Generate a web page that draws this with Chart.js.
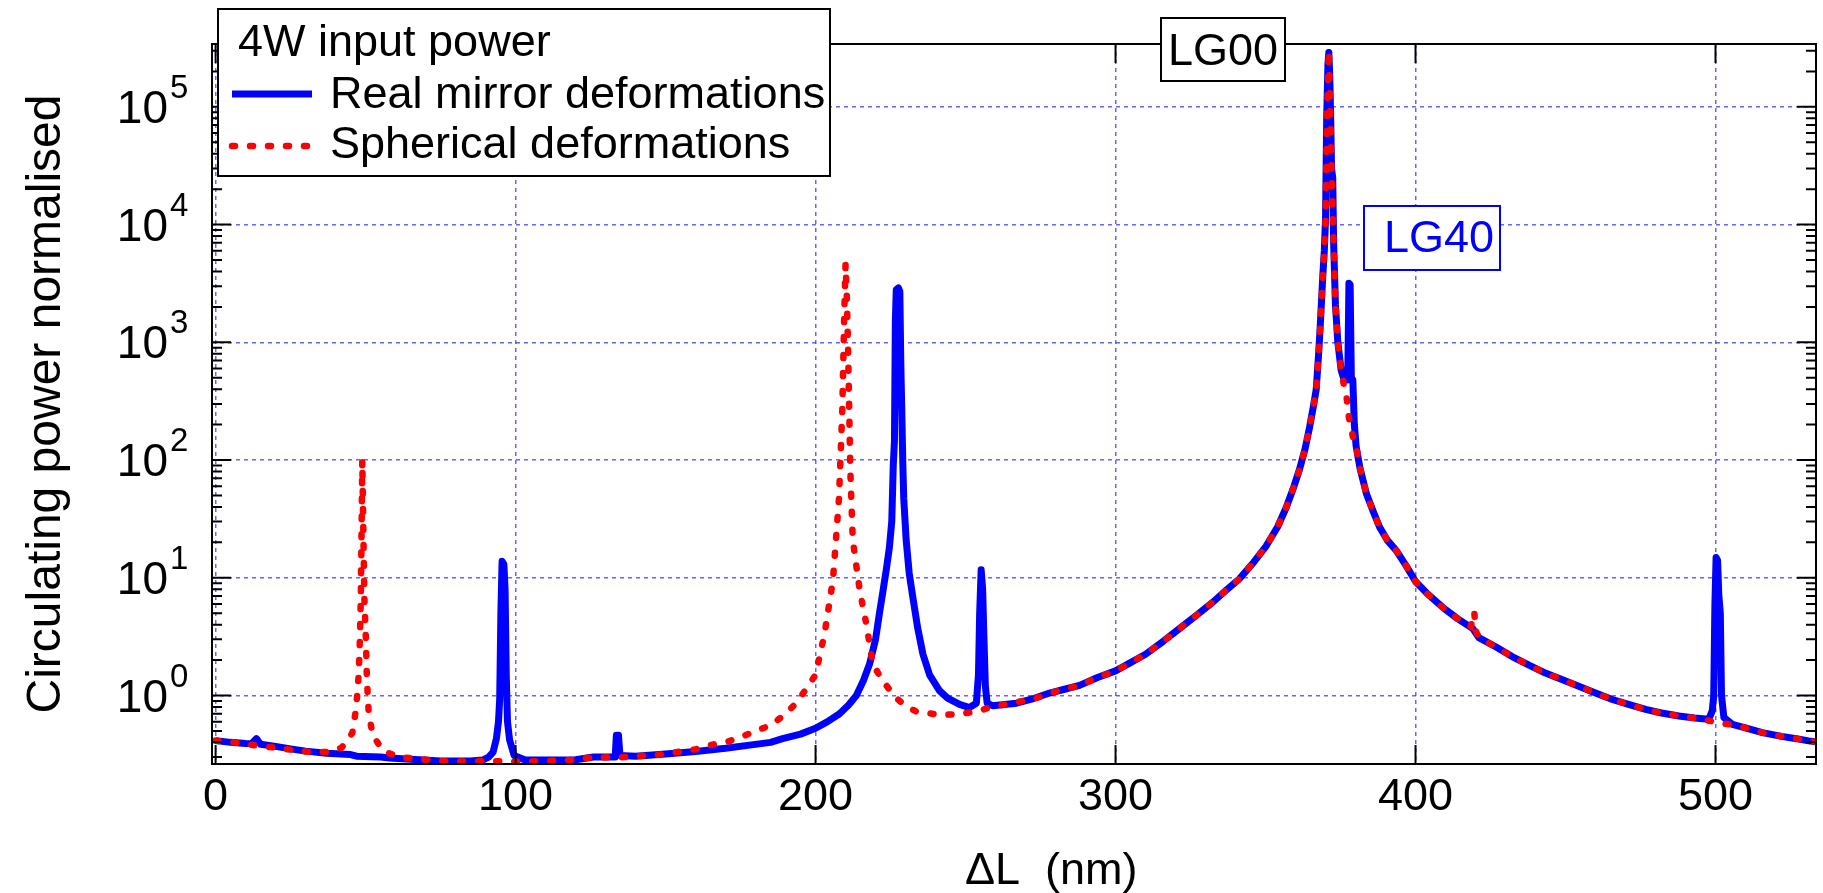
<!DOCTYPE html>
<html>
<head>
<meta charset="utf-8">
<title>Circulating power vs ΔL</title>
<script src="https://cdn.jsdelivr.net/npm/chart.js@4.4.1/dist/chart.umd.min.js"></script>
<style>
  html, body { margin: 0; padding: 0; background: #fff; }
  #wrap { width: 1823px; height: 893px; }
</style>
</head>
<body>
<div id="wrap"><canvas id="chart" width="1823" height="893"></canvas></div>
<script>
const X_TICKS = [0, 100, 200, 300, 400, 500];
const Y_TICKS = [1, 10, 100, 1000, 10000, 100000];
const Y_EXPONENTS = ['0', '1', '2', '3', '4', '5'];

// Real mirror deformations (blue)
const realX = [0, 5, 10, 12, 13.6, 15, 20, 25, 30, 37, 45, 47, 55, 58, 65, 75, 85, 89, 91, 92.5,
  93.6, 94.3, 94.7, 95.1, 95.5, 96.1, 96.5, 96.9, 97.3, 98, 99.5, 103, 110, 120, 126, 133.2, 133.6, 134.3, 134.8, 140,
  150, 160, 170, 178, 185, 189, 195, 200, 204, 208, 211, 213.6, 216, 218, 220, 221.3, 222.5, 223.6, 224.6, 225.4,
  225.9, 226.3, 226.6, 226.9, 227.6, 228.1, 228.4, 228.7, 229.1, 229.4, 230.2, 231.2, 232.4, 234, 235.8, 238, 241.3, 244, 248, 251.3,
  253.6, 254.3, 254.7, 255.2, 255.7, 256.1, 256.6, 257.2, 259, 263, 267, 272, 278, 283, 288, 294, 300, 305, 310, 316,
  321.3, 327, 332.4, 337, 341.3, 346, 350.2, 354, 356.9, 359.5, 361.3, 363.2, 364.7, 366, 366.9, 367.7, 368.2, 369.1, 369.6, 370,
  370.4, 370.8, 371.1, 371.4, 371.7, 372, 372.4, 372.7, 373.3, 374.1, 375.2, 376.2, 376.9, 377.4, 377.8, 378.2, 378.6, 379.1, 379.6, 380.2,
  381.5, 383.6, 386, 388, 390.5, 393.6, 397, 400, 404, 409.1, 414, 419.1, 421.1, 427, 432.2, 438, 443.3, 449, 454.4, 460,
  465.6, 471, 476.7, 482, 487.8, 493, 497.8, 498.9, 499.4, 499.8, 500.2, 500.7, 501.1, 501.6, 502, 502.8, 505.6, 510, 515.6, 522,
  527, 531, 533.5];
const realY = [0.414, 0.40, 0.392, 0.39, 0.43, 0.385, 0.37, 0.352, 0.337, 0.323, 0.315, 0.305, 0.30, 0.295, 0.287, 0.278, 0.278, 0.283, 0.30, 0.33,
  0.43, 0.6, 0.93, 5, 13.8, 13, 8, 1.45, 0.6, 0.42, 0.31, 0.285, 0.283, 0.285, 0.30, 0.30, 0.46, 0.46, 0.31, 0.305,
  0.318, 0.335, 0.356, 0.379, 0.40, 0.43, 0.47, 0.527, 0.60, 0.70, 0.83, 1.0, 1.35, 1.85, 3.0, 5.0, 7.8, 11.8, 18, 30,
  90, 145, 1500, 2800, 2900, 2700, 700, 300, 90, 47, 21, 11, 6.9, 3.8, 2.24, 1.5, 1.1, 0.95, 0.84, 0.79,
  0.86, 1.5, 5, 11.7, 8, 3.3, 1.2, 0.86, 0.82, 0.84, 0.86, 0.93, 1.05, 1.13, 1.22, 1.42, 1.62, 1.9, 2.24, 2.9,
  3.7, 4.8, 6.2, 7.9, 9.8, 13.5, 18.6, 27, 39.5, 60, 83, 125, 191, 290, 398, 800, 1320, 3700, 6000, 11200,
  85000, 230000, 290000, 190000, 85000, 30000, 25000, 7000, 2100, 1000, 580, 480, 500, 480, 3170, 3100, 500, 480, 200, 131,
  85, 52, 36, 27, 21, 17, 12.5, 9.3, 7.3, 5.6, 4.5, 3.7, 3.1, 2.57, 2.14, 1.8, 1.55, 1.36, 1.2, 1.05,
  0.925, 0.84, 0.762, 0.71, 0.67, 0.645, 0.63, 0.74, 0.99, 6, 14.9, 14, 7.1, 5, 1.0, 0.65, 0.57, 0.53, 0.484, 0.45,
  0.43, 0.412, 0.405];

// Spherical deformations (red dotted)
const sphX = [0, 6, 12.4, 20, 30, 38, 41.9, 44, 45.6, 46.6, 47.2, 47.7, 48.1, 48.4, 48.7, 48.9, 49.2, 49.6, 50.1, 50.4,
  50.8, 51.1, 52.4, 55.8, 61.3, 70, 79, 91, 99, 110, 118, 124.7, 137, 149, 160.2, 164.7, 170.8, 175.8, 180, 185.2,
  190, 193.6, 197, 200, 203, 205.8, 207.8, 208.9, 209.6, 210, 210.4, 210.8, 211.6, 212.4, 214.7, 216.9, 219.1, 222.4, 226.9, 230,
  233.6, 241.3, 246.9, 253.6, 258, 265, 272.4, 280, 288, 294, 300, 305, 310, 316, 321.3, 327, 332.4, 337, 341.3, 346,
  350.2, 354, 356.9, 359.5, 361.3, 363.2, 364.7, 366, 366.9, 367.7, 368.2, 369.1, 369.6, 370, 370.5, 371.1, 371.6, 372, 372.7, 373.3,
  374.1, 375.2, 376.2, 376.9, 377.8, 379.1, 380.2, 381.5, 383.6, 386, 388, 390.5, 393.6, 397, 400, 404, 409.1, 414, 418.5, 419.2,
  419.6, 420, 421.1, 427, 432.2, 438, 443.3, 449, 454.4, 460, 465.6, 471, 476.7, 482, 487.8, 493, 497.8, 503.3, 505.6, 510,
  515.6, 522, 527, 531, 533.5];
const sphY = [0.414, 0.40, 0.38, 0.36, 0.334, 0.33, 0.36, 0.41, 0.484, 0.71, 1.0, 1.5, 3, 6.7, 30, 100, 30, 6.7, 3, 1.5,
  0.9, 0.685, 0.46, 0.338, 0.30, 0.285, 0.274, 0.278, 0.274, 0.277, 0.283, 0.297, 0.30, 0.317, 0.35, 0.379, 0.406, 0.45, 0.50, 0.56,
  0.70, 0.865, 1.15, 1.5, 3.35, 9.6, 47, 262, 1900, 4630, 2500, 1000, 80, 21, 7.9, 4.07, 1.85, 1.33, 0.95, 0.82,
  0.73, 0.687, 0.69, 0.73, 0.79, 0.86, 0.93, 1.08, 1.22, 1.42, 1.62, 1.9, 2.24, 2.9, 3.7, 4.8, 6.2, 7.9, 9.8, 13.5,
  18.6, 27, 39.5, 60, 83, 125, 191, 290, 398, 800, 1320, 3700, 6000, 11200, 80000, 300000, 85000, 28000, 7000, 2100,
  1000, 580, 420, 363, 229, 158, 131, 85, 52, 36, 27, 21, 17, 12.5, 9.3, 7.3, 5.6, 4.5, 3.85, 5.1,
  5.1, 3.6, 3.1, 2.57, 2.14, 1.8, 1.55, 1.36, 1.2, 1.05, 0.925, 0.84, 0.762, 0.71, 0.67, 0.645, 0.61, 0.575, 0.565, 0.53,
  0.484, 0.45, 0.43, 0.412, 0.405];

const FONT = "'Liberation Sans', Arial, Helvetica, sans-serif";
const GRID_COLOR = 'rgba(50, 50, 255, 0.75)';

const toPoints = (xs, ys) => xs.map((x, i) => ({ x, y: ys[i] }));

// matlab-style frame, inward ticks, superscript tick labels and boxed annotations
const decorations = {
  id: 'decorations',
  afterDraw(chart) {
    const { ctx, chartArea: a, scales: { x, y } } = chart;
    ctx.save();

    ctx.strokeStyle = '#000';
    ctx.lineWidth = 2;
    ctx.beginPath();
    X_TICKS.forEach(v => {
      const px = x.getPixelForValue(v);
      ctx.moveTo(px, a.bottom); ctx.lineTo(px, a.bottom - 19);
      ctx.moveTo(px, a.top); ctx.lineTo(px, a.top + 19);
    });
    for (let e = -1; e <= 5; e++) {
      for (let d = 1; d <= 9; d++) {
        const v = d * Math.pow(10, e);
        if (v < y.min || v > y.max) continue;
        const py = y.getPixelForValue(v);
        const len = d === 1 ? 19 : 10;
        ctx.moveTo(a.left, py); ctx.lineTo(a.left + len, py);
        ctx.moveTo(a.right, py); ctx.lineTo(a.right - len, py);
      }
    }
    ctx.stroke();
    ctx.strokeRect(a.left, a.top, a.right - a.left, a.bottom - a.top);

    // y tick labels: 10 with raised exponent
    ctx.fillStyle = '#000';
    ctx.textBaseline = 'alphabetic';
    Y_TICKS.forEach((v, i) => {
      const py = y.getPixelForValue(v);
      ctx.font = `46px ${FONT}`;
      ctx.textAlign = 'right';
      ctx.fillText('10', 168, py + 16);
      ctx.font = `33px ${FONT}`;
      ctx.textAlign = 'left';
      ctx.fillText(Y_EXPONENTS[i], 170, py - 9);
    });

    // x axis title
    ctx.font = `45px ${FONT}`;
    ctx.textAlign = 'left';
    ctx.fillText('ΔL  (nm)', 965, 884);

    // LG00 / LG40 labels
    const box = (bx, by, bw, bh, color, text, tx, ty) => {
      ctx.fillStyle = '#fff';
      ctx.fillRect(bx, by, bw, bh);
      ctx.strokeStyle = color;
      ctx.lineWidth = 2;
      ctx.strokeRect(bx, by, bw, bh);
      ctx.fillStyle = color;
      ctx.font = `45px ${FONT}`;
      ctx.fillText(text, tx, ty);
    };
    box(1161, 18, 124, 63, '#000', 'LG00', 1168, 65);
    box(1364, 206, 136, 64, '#0000ff', 'LG40', 1384, 252);

    // legend
    const [sph, real] = chart.data.datasets;
    ctx.fillStyle = '#fff';
    ctx.fillRect(218, 9, 612, 167);
    ctx.strokeStyle = '#000';
    ctx.lineWidth = 2;
    ctx.strokeRect(218, 9, 612, 167);
    ctx.fillStyle = '#000';
    ctx.font = `45px ${FONT}`;
    ctx.fillText('4W input power', 238, 56);
    [[real, 94, 108], [sph, 146, 158]].forEach(([ds, ly, ty]) => {
      ctx.save();
      ctx.strokeStyle = ds.borderColor;
      ctx.lineWidth = ds.borderWidth;
      ctx.lineCap = ds.borderCapStyle || 'butt';
      ctx.setLineDash(ds.borderDash || []);
      ctx.beginPath();
      ctx.moveTo(232, ly); ctx.lineTo(312, ly);
      ctx.stroke();
      ctx.restore();
      ctx.fillStyle = '#000';
      ctx.fillText(ds.label, 330, ty);
    });

    ctx.restore();
  }
};

Chart.defaults.font.family = FONT;
Chart.defaults.color = '#000';

new Chart(document.getElementById('chart'), {
  type: 'line',
  data: {
    datasets: [
      {
        label: 'Spherical deformations',
        data: toPoints(sphX, sphY),
        borderColor: '#ff0000',
        borderWidth: 6.5,
        borderDash: [3, 15],
        borderCapStyle: 'round',
        pointRadius: 0,
        tension: 0,
        order: 0,
      },
      {
        label: 'Real mirror deformations',
        data: toPoints(realX, realY),
        borderColor: '#0000ff',
        borderWidth: 7,
        borderJoinStyle: 'round',
        pointRadius: 0,
        tension: 0,
        order: 1,
      }
    ]
  },
  options: {
    responsive: false,
    animation: false,
    events: [],
    layout: { padding: { top: 44, right: 7, left: 0, bottom: 0 } },
    plugins: {
      legend: { display: false },
      tooltip: { enabled: false },
    },
    scales: {
      x: {
        type: 'linear',
        min: -1.2,
        max: 533.5,
        afterBuildTicks: (s) => { s.ticks = X_TICKS.map(v => ({ value: v })); },
        afterFit: (s) => { s.height = 893 - 764; },
        grid: { color: GRID_COLOR, lineWidth: 1.5, drawTicks: false },
        border: { display: false, dash: [4, 4] },
        ticks: { font: { size: 45 }, color: '#000', padding: 7, maxRotation: 0 },
      },
      y: {
        type: 'logarithmic',
        min: 0.262,
        max: 342000,
        afterBuildTicks: (s) => { s.ticks = Y_TICKS.map(v => ({ value: v })); },
        afterFit: (s) => { s.width = 212; },
        grid: { color: GRID_COLOR, lineWidth: 1.5, drawTicks: false },
        border: { display: false, dash: [4, 4] },
        ticks: { display: false },
        title: {
          display: true,
          text: 'Circulating power normalised',
          font: { size: 48 },
          color: '#000',
          padding: { top: 18, bottom: 0 },
        },
      }
    }
  },
  plugins: [decorations]
});
</script>
</body>
</html>
